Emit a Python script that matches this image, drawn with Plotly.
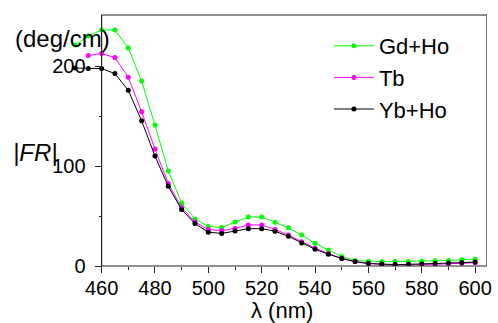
import plotly.graph_objects as go

wavelength = [450, 455, 460, 465, 470, 475, 480, 485, 490, 495, 500, 505, 510, 515, 520, 525,
              530, 535, 540, 545, 550, 555, 560, 565, 570, 575, 580, 585, 590, 595, 600]

gd_ho = [221, 230, 236, 236, 218, 185, 141, 95, 63, 47, 39.5, 38.5, 44, 49, 49, 43.7,
         38.2, 31, 22.7, 16, 9.5, 5.4, 4.8, 4.3, 4.5, 4.5, 4.8, 5.2, 5.6, 6.2, 6.8]

tb = [None, 210.5, 212.5, 208.4, 188.7, 154.2, 117, 82.4, 58.4, 44, 36.5, 35.4, 37.5, 41, 41, 36.5,
      31, 24.3, 17.8, 12.5, 7.7, 4.2, 2.5, 1.5, 1.0, 1.0, 1.3, 1.7, 2.2, 2.7, 3.3]

yb_ho = [198, 197.4, 197.4, 192.4, 175.7, 145.2, 110, 79.7, 56.4, 42.4, 33.8, 32.6, 35, 37.3, 37.3, 34.8,
         29.7, 23, 16.7, 11.8, 7.5, 4.4, 2.4, 2.0, 1.4, 1.7, 2.0, 2.4, 3.0, 3.4, 4.0]

series_names = ["Gd+Ho", "Tb", "Yb+Ho"]
series_values = [gd_ho, tb, yb_ho]
series_colors = ["#00ff00", "#ff00ff", "#000000"]

x_ticks = [460, 480, 500, 520, 540, 560, 580, 600]
x_minor = [470, 490, 510, 530, 550, 570, 590]
y_ticks = [0, 100, 200]
y_minor = [50, 150]

FONT = "Liberation Sans, Arial, sans-serif"
W, H = 498, 323
ML, MR, MT, MB = 67, 6, 15, 57
PW = W - ML - MR
PH = H - MT - MB
X0, X1 = 460 - 35 / 2.7, 460 + 390 / 2.7
Y0, Y1 = 0, 251


def px(x):
    return (x - ML) / PW


def py(y):
    return (H - MB - y) / PH


fig = go.Figure()
for name, vals, col in zip(series_names, series_values, series_colors):
    fig.add_trace(go.Scatter(
        x=wavelength, y=vals, name=name, mode="lines+markers",
        line=dict(color=col, width=1),
        marker=dict(color=col, size=5),
        connectgaps=False,
    ))

# axis box from 460 to right edge
fig.add_shape(type="rect", xref="x", yref="paper", x0=460, x1=X1, y0=0, y1=1,
              line=dict(color="#222", width=1.2), layer="above")

fig.update_layout(
    width=W, height=H,
    margin=dict(l=ML, r=MR, t=MT, b=MB, pad=0),
    paper_bgcolor="white", plot_bgcolor="white",
    font=dict(family=FONT, color="black", size=20),
    showlegend=True,
    legend=dict(x=px(332), y=py(25), xanchor="left", yanchor="top",
                font=dict(size=22, family=FONT), bgcolor="rgba(0,0,0,0)",
                itemwidth=40, tracegroupgap=0),
    xaxis=dict(range=[X0, X1], showgrid=False, zeroline=False, showline=False,
               tickmode="array", tickvals=x_ticks, ticks="outside", ticklen=6,
               tickcolor="#222", tickfont=dict(size=20, family=FONT),
               ticklabelstandoff=-2,
               minor=dict(tickmode="array", tickvals=x_minor, ticks="outside",
                          ticklen=3, tickcolor="#222")),
    yaxis=dict(range=[Y0, Y1], showgrid=False, zeroline=False, showline=False,
               anchor="free", position=(460 - X0) / (X1 - X0),
               tickmode="array", tickvals=y_ticks, ticks="outside", ticklen=7,
               tickcolor="#222", tickfont=dict(size=20, family=FONT),
               ticklabelstandoff=5,
               minor=dict(tickmode="array", tickvals=y_minor, ticks="outside",
                          ticklen=3, tickcolor="#222")),
)

fig.add_annotation(text="(deg/cm)", xref="paper", yref="paper", x=px(62), y=py(38),
                   xanchor="center", yanchor="middle", showarrow=False,
                   font=dict(size=24, family=FONT))
fig.add_annotation(text="<i>|FR|</i>", xref="paper", yref="paper", x=px(35), y=py(152),
                   xanchor="center", yanchor="middle", showarrow=False,
                   font=dict(size=24, family=FONT))
fig.add_annotation(text="λ (nm)", xref="paper", yref="paper", x=px(285), y=py(310),
                   xanchor="center", yanchor="middle", showarrow=False,
                   font=dict(size=22, family=FONT))

fig.write_html("out.html")
